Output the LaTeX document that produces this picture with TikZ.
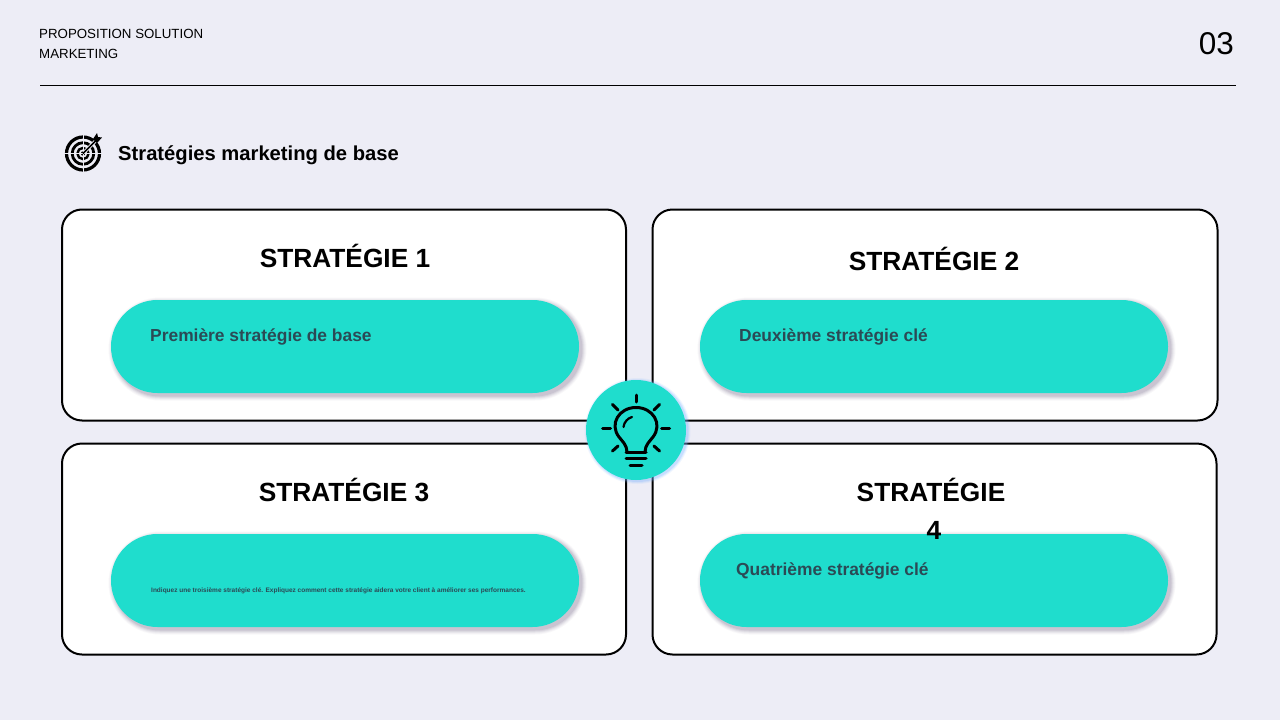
\documentclass[tikz,border=0pt]{standalone}
\usepackage{fontspec}
\usetikzlibrary{shapes.misc}
\setmainfont{Liberation Sans}
\definecolor{bgc}{HTML}{EDEDF6}
\definecolor{tealc}{HTML}{1FDDCD}
\definecolor{pilltext}{HTML}{2B4A55}
\definecolor{shadowc}{HTML}{5A4A70}
\definecolor{glowc}{HTML}{7FB4FF}
\tikzset{
  x=1pt,y=-1pt,
  card/.style={draw=black,line width=2pt,fill=white,rounded corners=20pt,anchor=north west,inner sep=0pt},
  pill/.style={rounded rectangle,fill=tealc,inner sep=0pt,minimum width=468pt,minimum height=93pt},
  pillshade/.style={rounded rectangle,fill=shadowc,inner sep=0pt},
  cardtitle/.style={font=\fontsize{26.3}{30}\selectfont\bfseries,text=black,inner sep=0pt,align=center},
  pilllabel/.style={font=\fontsize{17.4}{21}\selectfont\bfseries,text=pilltext,inner sep=0pt,anchor=west},
  icon/.style={line width=3pt,line cap=round,black},
}
\newcommand{\shadowpill}[2]{%
  \foreach \s/\o in {5/.04,4/.05,3/.07,2/.09,1/.11}{%
    \node[pillshade,opacity=\o,minimum width=468pt+2*\s pt,minimum height=93pt+2*\s pt] at (#1+2.5,#2+2.5) {};
  }%
}
\begin{document}
\begin{tikzpicture}
\useasboundingbox (0,0) rectangle (1280,720);
\fill[bgc] (0,0) rectangle (1280,720);

\node[anchor=west,inner sep=0pt,font=\fontsize{13.3}{16}\selectfont] (h1) at (39,34) {PROPOSITION SOLUTION};
\node[anchor=west,inner sep=0pt,font=\fontsize{13.3}{16}\selectfont] (h2) at (39,54) {MARKETING};
\node[anchor=east,inner sep=0pt,font=\fontsize{31.5}{34}\selectfont] (num) at (1234,44) {03};
\draw[line width=1.7pt] (40,85.5) -- (1236,85.5);

\node[anchor=west,inner sep=0pt,font=\fontsize{20.2}{25}\selectfont\bfseries] (title) at (118,155) {Stratégies marketing de base};

% target icon
\coordinate (tgt) at (83,153.5);
\draw[black,line width=3.2pt] (tgt) circle (16.5);
\draw[black,line width=2.8pt] (tgt) circle (10.8);
\draw[black,line width=2.4pt] (tgt) circle (5.6);
\fill[black] (tgt) circle (2.2);
\draw[bgc,line width=.8pt] (64,153.5) -- (102,153.5) (83,135) -- (83,172);
\draw[bgc,line width=3.5pt] (84,152.5) -- (96,140.5);
\draw[black,line width=1.6pt] (tgt) -- (96,140.5);
\fill[black] (93,139) -- (97,133) -- (98,137) -- (102,137.5) -- (97,143) -- cycle;

% cards
\node[card,minimum width=564pt,minimum height=211pt] (c1) at (61,208.5) {};
\node[card,minimum width=565pt,minimum height=211pt] (c2) at (651.5,208.5) {};
\node[card,minimum width=564pt,minimum height=211pt] (c3) at (61,442.5) {};
\node[card,minimum width=564pt,minimum height=211pt] (c4) at (651.5,442.5) {};

% pills
\shadowpill{345}{346.5}
\node[pill] (p1) at (345,346.5) {};
\shadowpill{934}{346.5}
\node[pill] (p2) at (934,346.5) {};
\shadowpill{345}{580.5}
\node[pill] (p3) at (345,580.5) {};
\shadowpill{934}{580.5}
\node[pill] (p4) at (934,580.5) {};

% titles
\node[cardtitle] (t1) at (345,255.5) {STRATÉGIE 1};
\node[cardtitle] (t2) at (934,258.5) {STRATÉGIE 2};
\node[cardtitle] (t3) at (344,489.5) {STRATÉGIE 3};
\node[cardtitle] (t4a) at (931,489.5) {STRATÉGIE};
\node[cardtitle] (t4b) at (934,530.5) {4};

% pill labels
\node[pilllabel] (l1) at (150,336.5) {Première stratégie de base};
\node[pilllabel] (l2) at (739,336.5) {Deuxième stratégie clé};
\node[pilllabel,font=\fontsize{6.5}{9}\selectfont\bfseries] (l3) at (151,590.5) {Indiquez une troisième stratégie clé. Expliquez comment cette stratégie aidera votre client à améliorer ses performances.};
\node[pilllabel] (l4) at (736,570.5) {Quatrième stratégie clé};

% bulb badge
\foreach \r/\o in {53/.10,52/.16,51/.24}{\fill[glowc,opacity=\o] (637.5,431) circle (\r);}
\node[circle,fill=tealc,minimum size=100pt,inner sep=0pt] (badge) at (636,430) {};
\draw[black,line width=3pt,line join=round,line cap=round]
  (627,452) .. controls (627,445) and (622,441) .. (619,437)
  .. controls (609,424) and (619,407.5) .. (636,407.5)
  .. controls (653,407.5) and (663,424) .. (653,437)
  .. controls (650,441) and (645,445) .. (645,452);
\draw[icon] (626,452) -- (646,452);
\draw[icon,line width=2.2pt] (623.5,427) .. controls (624,422) and (628,418) .. (632,417);
\draw[icon] (626,458.5) -- (646,458.5);
\draw[icon] (630,465) -- (642,465);
\draw[icon] (636,395) -- (636,402);
\draw[icon] (612.5,404.5) -- (618,410);
\draw[icon] (659.5,404.5) -- (654,410);
\draw[icon] (602.5,428) -- (610.5,428);
\draw[icon] (661.5,428) -- (669.5,428);
\draw[icon] (612.5,451) -- (618,446);
\draw[icon] (659.5,451) -- (654,446);
\end{tikzpicture}
\end{document}
